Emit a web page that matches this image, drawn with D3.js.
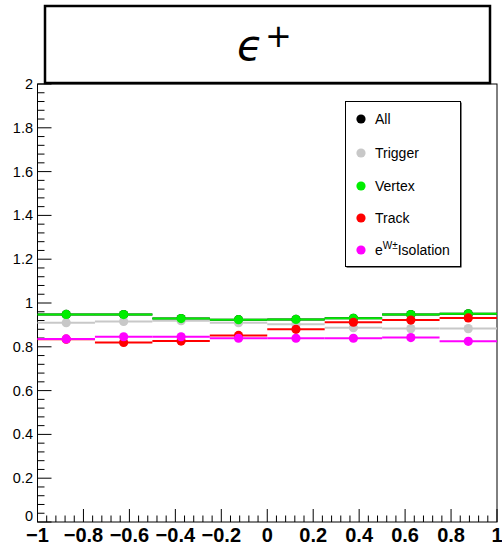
<!DOCTYPE html>
<html><head><meta charset="utf-8">
<script src="https://cdn.jsdelivr.net/npm/d3@7"></script>
<style>body{margin:0;background:#fff}svg{display:block}</style>
</head><body>
<script>
const binEdges = [-1,-0.75,-0.5,-0.25,0,0.25,0.5,0.75,1];
const seriesNames = ["All","Trigger","Vertex","Track","Isolation"];
const seriesColors = ["#000000","#c8c8c8","#00ee00","#ff0000","#ff00ff"];
const allVals      = [0.948,0.947,0.929,0.924,0.925,0.930,0.947,0.951];
const triggerVals  = [0.910,0.916,0.919,0.910,0.903,0.887,0.883,0.883];
const vertexVals   = [0.948,0.947,0.929,0.924,0.925,0.930,0.947,0.951];
const trackVals    = [0.835,0.820,0.826,0.852,0.880,0.912,0.922,0.932];
const isoVals      = [0.836,0.846,0.846,0.839,0.839,0.839,0.842,0.825];
const xTicks = [-1,-0.8,-0.6,-0.4,-0.2,0,0.2,0.4,0.6,0.8,1];
const yTicks = [0,0.2,0.4,0.6,0.8,1,1.2,1.4,1.6,1.8,2];

const W=502,H=546;
const svg=d3.select("body").append("svg").attr("width",W).attr("height",H);
const L=37.5,R=497,T=84,B=522;
const x=d3.scaleLinear().domain([-1,1]).range([L,R]);
const y=d3.scaleLinear().domain([0,2]).range([B,T]);

// frame
svg.append("rect").attr("x",L).attr("y",T).attr("width",R-L).attr("height",B-T)
  .attr("fill","none").attr("stroke","#000").attr("stroke-width",1);

const isMajor=d=>Math.abs(d/0.2-Math.round(d/0.2))<1e-6;
// y ticks
const yMinor=d3.range(0,2.0001,0.04);
svg.append("g").selectAll("line").data(yMinor).join("line")
  .attr("x1",L).attr("x2",d=>L+(isMajor(d)?14:7))
  .attr("y1",d=>y(d)).attr("y2",d=>y(d)).attr("stroke","#000");
svg.append("g").selectAll("text").data(yTicks).join("text")
  .attr("x",33).attr("y",d=>y(d)+(d===0?-1:5)).attr("text-anchor","end")
  .attr("font-family","Liberation Sans, Arial, sans-serif").attr("font-size",14.5)
  .text(d=>d3.format("~g")(d));

// x ticks
const xMinor=d3.range(-1,1.0001,0.04);
svg.append("g").selectAll("line").data(xMinor).join("line")
  .attr("x1",d=>x(d)).attr("x2",d=>x(d)).attr("y1",B)
  .attr("y2",d=>B-(isMajor(d)?13:6.5)).attr("stroke","#000");
svg.append("g").selectAll("text").data(xTicks).join("text")
  .attr("x",d=>x(d)).attr("y",542).attr("text-anchor","middle")
  .attr("font-family","Liberation Sans, Arial, sans-serif").attr("font-size",20).attr("font-weight","bold")
  .text(d=>d3.format("~g")(d).replace("-","\u2212"));

// series
const all=[allVals,triggerVals,vertexVals,trackVals,isoVals];
const plot=svg.append("g");
all.forEach((vals,si)=>{
  const g=plot.append("g");
  const bins=vals.map((v,i)=>({x0:binEdges[i],x1:binEdges[i+1],v}));
  g.selectAll("line").data(bins).join("line")
    .attr("x1",d=>x(d.x0)).attr("x2",d=>x(d.x1)).attr("y1",d=>y(d.v)).attr("y2",d=>y(d.v))
    .attr("stroke",seriesColors[si]).attr("stroke-width",2);
  g.selectAll("circle").data(bins).join("circle")
    .attr("cx",d=>x((d.x0+d.x1)/2)).attr("cy",d=>y(d.v)).attr("r",4.6)
    .attr("fill",seriesColors[si]);
});

// title box
svg.append("rect").attr("x",45).attr("y",6).attr("width",445).attr("height",77)
  .attr("fill","#fff").attr("stroke","#000").attr("stroke-width",2.5);
svg.append("text").attr("x",250).attr("y",60).attr("text-anchor","middle")
  .attr("font-family","DejaVu Sans, sans-serif").attr("font-size",42).attr("font-style","italic")
  .text("\u03F5");
svg.append("text").attr("x",278.5).attr("y",47).attr("text-anchor","middle")
  .attr("font-family","DejaVu Sans, sans-serif").attr("font-size",32)
  .text("+");

// legend
const lg=svg.append("g");
lg.append("rect").attr("x",346.5).attr("y",102.5).attr("width",115).attr("height",165).attr("fill","#000");
lg.append("rect").attr("x",345.5).attr("y",101.5).attr("width",115).attr("height",165)
  .attr("fill","#fff").attr("stroke","#000").attr("stroke-width",1);
const ly=[119,153,186,218,250];
seriesNames.forEach((n,i)=>{
  lg.append("circle").attr("cx",361).attr("cy",ly[i]).attr("r",4.6).attr("fill",seriesColors[i]);
  const t=lg.append("text").attr("x",375).attr("y",ly[i]+5)
    .attr("font-family","Liberation Sans, Arial, sans-serif").attr("font-size",14);
  if(n==="Isolation"){
    t.append("tspan").text("e");
    t.append("tspan").attr("dy",-6).attr("font-size",10).text("W\u00B1");
    t.append("tspan").attr("dy",6).text("Isolation");
  } else t.text(n);
});
</script>
</body></html>
